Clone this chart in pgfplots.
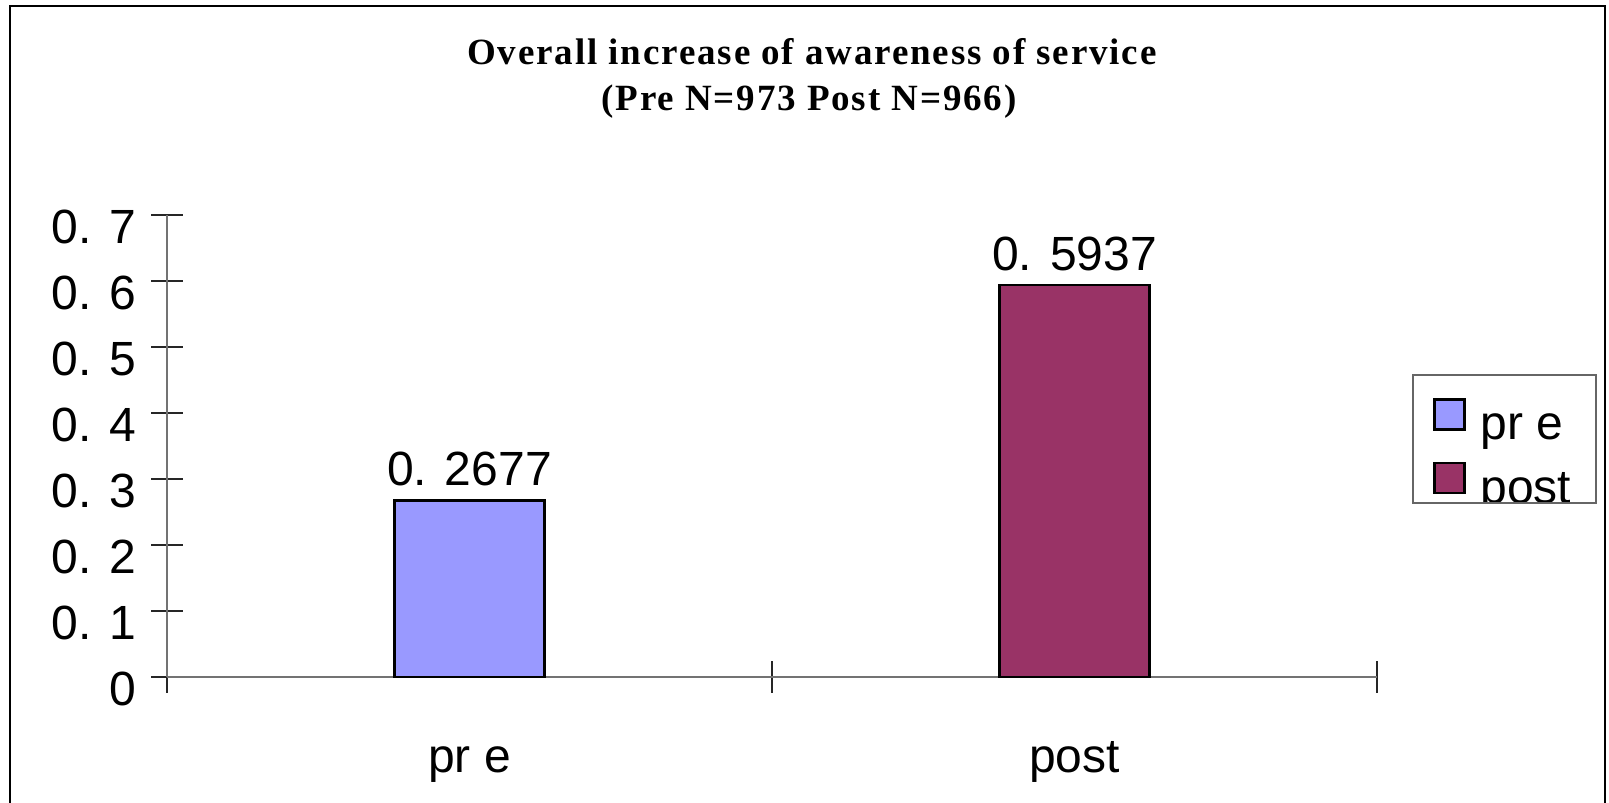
\documentclass[border=0pt]{standalone}
\usepackage{fontspec}
\setmainfont{Liberation Sans}
\newfontfamily\titlefont[LetterSpace=5]{Liberation Serif}
\usepackage{pgfplots}
\pgfplotsset{compat=1.18}

\definecolor{prefill}{RGB}{153,153,255}
\definecolor{postfill}{RGB}{153,51,102}

\begin{document}
\begin{tikzpicture}
  \path[use as bounding box] (0,0) rectangle (804.5pt,401pt);

  % outer frame of the chart area
  \draw[line width=1pt] (5pt,-5pt) -- (5pt,398pt) -- (802.5pt,398pt) -- (802.5pt,-5pt);

  % title
  \node[anchor=base, inner sep=0pt, font=\titlefont\bfseries\fontsize{18.5}{20}\selectfont]
    at (406pt,368.5pt) {Overall increase of awareness of service};
  \node[anchor=base, inner sep=0pt, font=\titlefont\bfseries\fontsize{18.5}{20}\selectfont]
    at (404.5pt,345.5pt) {(Pre N=973 Post N=966)};

  \begin{axis}[
    at={(83.5pt,62.5pt)}, anchor=south west,
    scale only axis, width=605pt, height=231pt,
    xmin=-0.5, xmax=1.5, ymin=0, ymax=0.7,
    axis x line*=bottom, axis y line*=left,
    axis line style={black!55, line width=0.8pt},
    clip=false,
    font=\fontsize{24}{28}\selectfont,
    tick align=center, major tick length=16pt,
    tick style={black!85, line width=0.8pt},
    xtick={-0.5,0.5,1.5}, xticklabels={},
    extra x ticks={0,1}, extra x tick labels={pr e,post},
    extra x tick style={major tick length=0pt, tick style={draw=none},
      xticklabel style={anchor=base, yshift=-47.5pt}},
    ytick={0,0.1,...,0.7},
    yticklabels={0,0. 1,0. 2,0. 3,0. 4,0. 5,0. 6,0. 7},
    yticklabel style={anchor=east, xshift=-4pt, yshift=-6pt},
    legend style={draw=none, fill=none, inner sep=0pt, outer sep=0pt,
      at={(1433pt*0.5-83.5pt,401pt-199pt-62.5pt)}, anchor=north west,
      font=\fontsize{24}{28}\selectfont, row sep=10.75pt,
      nodes={inner sep=0pt, text height=21pt, text depth=0pt, anchor=base west},
      /tikz/every odd column/.append style={column sep=7.5pt}},
    legend cell align=left,
    legend image code/.code={\draw[#1] (0pt,5.25pt) rectangle (15pt,20.25pt);},
  ]
    \addplot[ybar, bar width=75pt, bar shift=0pt, fill=prefill, draw=black,
      line width=1.25pt,
      point meta=explicit symbolic, nodes near coords,
      nodes near coords style={anchor=south, inner sep=0pt, yshift=6.5pt,
        font=\fontsize{24}{28}\selectfont, text=black}]
      coordinates {(0,0.2677) [0. 2677]};
    \addlegendentry{pr e}
    \addplot[ybar, bar width=75pt, bar shift=0pt, fill=postfill, draw=black,
      line width=1.25pt,
      point meta=explicit symbolic, nodes near coords,
      nodes near coords style={anchor=south, inner sep=0pt, yshift=6.5pt,
        font=\fontsize{24}{28}\selectfont, text=black}]
      coordinates {(1,0.5937) [0. 5937]};
    \addlegendentry{post}
  \end{axis}

  % legend frame; its lower edge trims the last entry
  \fill[white] (705pt,148.9pt) rectangle (800pt,138pt);
  \draw[black!60, line width=0.8pt] (706.5pt,213.5pt) rectangle (798pt,149.5pt);
\end{tikzpicture}
\end{document}
